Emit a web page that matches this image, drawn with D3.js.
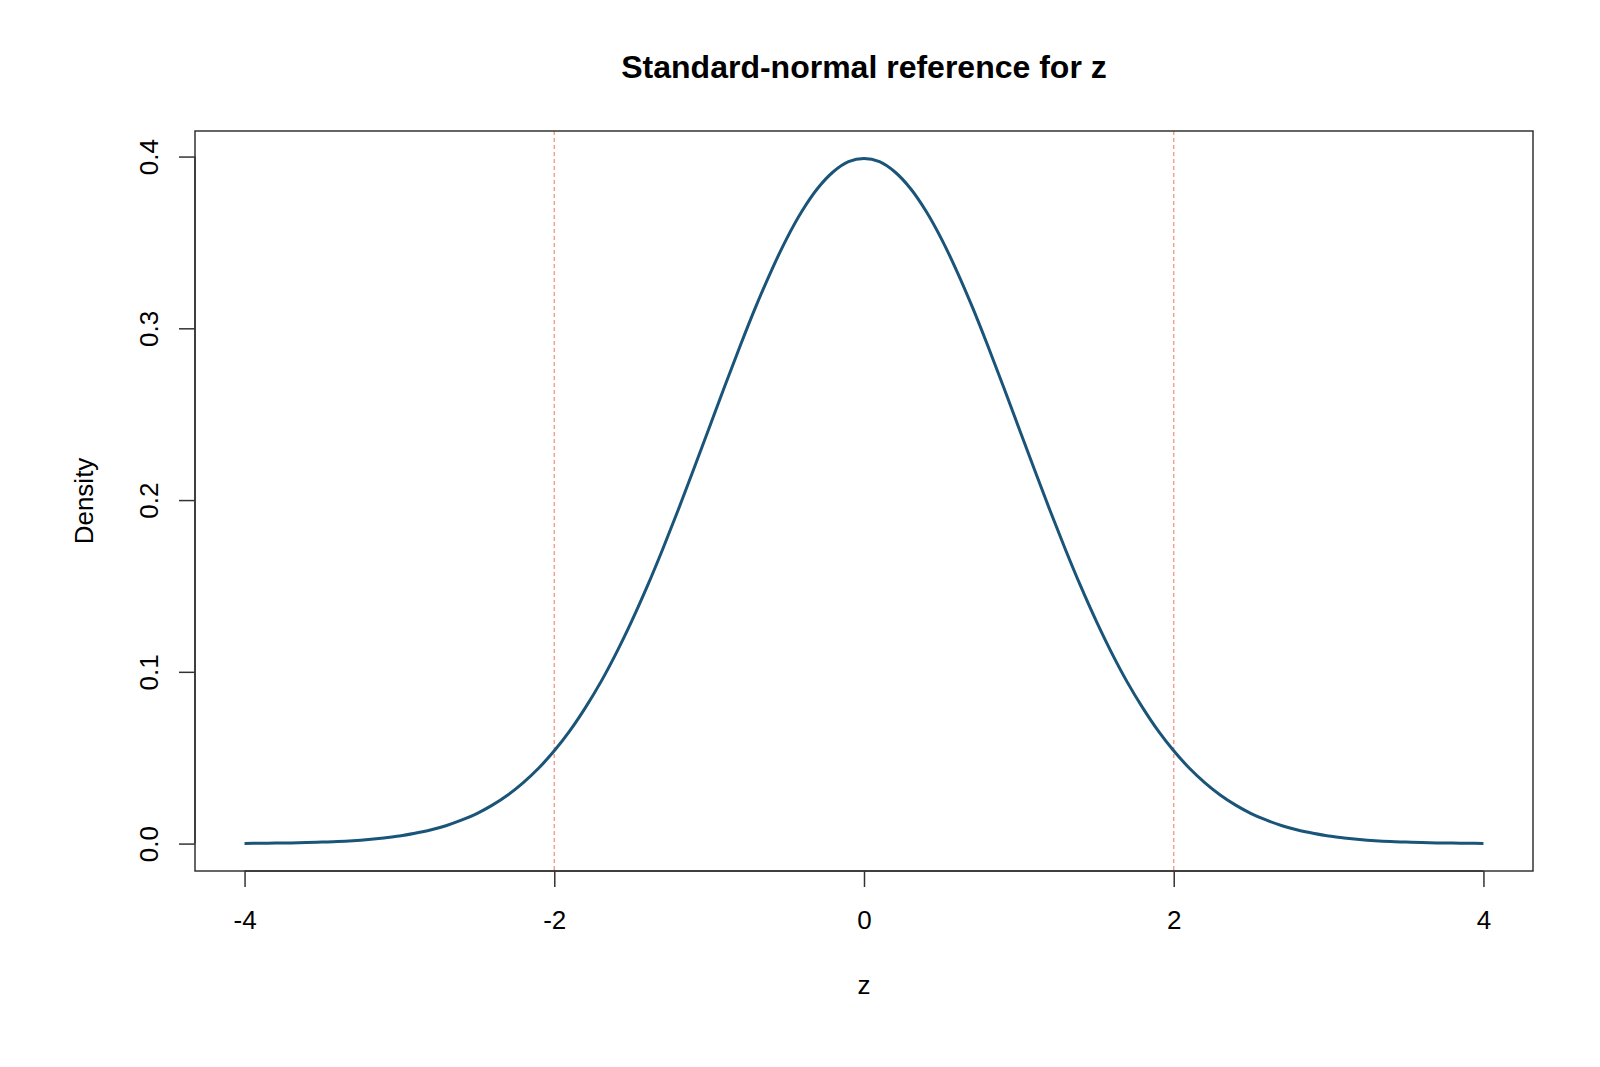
<!DOCTYPE html>
<html>
<head>
<meta charset="utf-8">
<script src="https://cdn.jsdelivr.net/npm/d3@7"></script>
<style>
  html, body { margin: 0; padding: 0; background: #fff; }
  text { font-family: "Liberation Sans", Arial, sans-serif; fill: #000; }
</style>
</head>
<body>
<script>
// values
var zValues = [-4.0,-3.9,-3.8,-3.7,-3.6,-3.5,-3.4,-3.3,-3.2,-3.1,-3.0,-2.9,-2.8,-2.7,-2.6,-2.5,-2.4,-2.3,-2.2,-2.1,
  -2.0,-1.9,-1.8,-1.7,-1.6,-1.5,-1.4,-1.3,-1.2,-1.1,-1.0,-0.9,-0.8,-0.7,-0.6,-0.5,-0.4,-0.3,-0.2,-0.1,
  0.0,0.1,0.2,0.3,0.4,0.5,0.6,0.7,0.8,0.9,1.0,1.1,1.2,1.3,1.4,1.5,1.6,1.7,1.8,1.9,
  2.0,2.1,2.2,2.3,2.4,2.5,2.6,2.7,2.8,2.9,3.0,3.1,3.2,3.3,3.4,3.5,3.6,3.7,3.8,3.9,4.0];
var densityValues = [0.0001,0.0002,0.0003,0.0004,0.0006,0.0009,0.0012,0.0017,0.0024,0.0033,0.0044,0.0060,0.0079,0.0104,0.0136,0.0175,0.0224,0.0283,0.0355,0.0440,
  0.0540,0.0656,0.0790,0.0940,0.1109,0.1295,0.1497,0.1714,0.1942,0.2179,0.2420,0.2661,0.2897,0.3123,0.3332,0.3521,0.3683,0.3814,0.3910,0.3970,
  0.3989,0.3970,0.3910,0.3814,0.3683,0.3521,0.3332,0.3123,0.2897,0.2661,0.2420,0.2179,0.1942,0.1714,0.1497,0.1295,0.1109,0.0940,0.0790,0.0656,
  0.0540,0.0440,0.0355,0.0283,0.0224,0.0175,0.0136,0.0104,0.0079,0.0060,0.0044,0.0033,0.0024,0.0017,0.0012,0.0009,0.0006,0.0004,0.0003,0.0002,0.0001];
var refLines = [-2, 2];
var xTicks = [-4, -2, 0, 2, 4];
var yTicks = [0.0, 0.1, 0.2, 0.3, 0.4];
var titleText = "Standard-normal reference for z";
var xLabel = "z";
var yLabel = "Density";

function main() {
  var width = 1600, height = 1067;
  var plotLeft = 195, plotRight = 1533, plotTop = 131, plotBottom = 871;

  var svg = d3.select("body").append("svg")
    .attr("width", width).attr("height", height);

  // R style: range padded by 4%
  var x = d3.scaleLinear().domain([-4.32, 4.32]).range([plotLeft, plotRight]);
  var y = d3.scaleLinear().domain([-0.01596, 0.41488]).range([plotBottom, plotTop]);

  // dashed reference lines
  svg.selectAll(".ref").data(refLines).enter().append("line")
    .attr("x1", d => x(d)).attr("x2", d => x(d))
    .attr("y1", plotTop).attr("y2", plotBottom)
    .attr("stroke", "#f4a08e")
    .attr("stroke-width", 1.5)
    .attr("stroke-dasharray", "4,3");

  // density curve
  var line = d3.line()
    .x((d, i) => x(zValues[i]))
    .y(d => y(d))
    .curve(d3.curveCatmullRom);

  svg.append("path")
    .datum(densityValues)
    .attr("d", line)
    .attr("fill", "none")
    .attr("stroke", "#1a5478")
    .attr("stroke-width", 3)
    .attr("stroke-linejoin", "round");

  // box
  svg.append("rect")
    .attr("x", plotLeft).attr("y", plotTop)
    .attr("width", plotRight - plotLeft).attr("height", plotBottom - plotTop)
    .attr("fill", "none").attr("stroke", "#333").attr("stroke-width", 1.5);

  // x axis
  var xAxis = svg.append("g").attr("transform", "translate(0," + plotBottom + ")")
    .call(d3.axisBottom(x).tickValues(xTicks).tickSize(16).tickPadding(24)
      .tickFormat(d => d3.format("d")(d).replace("\u2212", "-")));
  xAxis.select(".domain")
    .attr("d", "M" + x(-4) + ",0H" + x(4))
    .attr("stroke", "#333").attr("stroke-width", 1.5);
  xAxis.selectAll(".tick line").attr("stroke", "#333").attr("stroke-width", 1.5);
  xAxis.selectAll(".tick text")
    .attr("font-family", "Liberation Sans, Arial, sans-serif")
    .attr("font-size", 26).attr("fill", "#000");

  // y axis
  var yAxis = svg.append("g").attr("transform", "translate(" + plotLeft + ",0)")
    .call(d3.axisLeft(y).tickValues(yTicks).tickSize(16).tickFormat(d3.format(".1f")));
  yAxis.select(".domain")
    .attr("d", "M0," + y(0) + "V" + y(0.4))
    .attr("stroke", "#333").attr("stroke-width", 1.5);
  yAxis.selectAll(".tick line").attr("stroke", "#333").attr("stroke-width", 1.5);
  yAxis.selectAll(".tick text")
    .attr("font-family", "Liberation Sans, Arial, sans-serif")
    .attr("font-size", 26).attr("fill", "#000")
    .attr("x", null).attr("dy", null)
    .attr("text-anchor", "middle")
    .attr("transform", "translate(-37,0) rotate(-90)");

  // title and labels
  svg.append("text")
    .attr("x", (plotLeft + plotRight) / 2).attr("y", 78)
    .attr("text-anchor", "middle")
    .attr("font-size", 32).attr("font-weight", "bold")
    .text(titleText);

  svg.append("text")
    .attr("x", (plotLeft + plotRight) / 2).attr("y", 994)
    .attr("text-anchor", "middle")
    .attr("font-size", 26)
    .text(xLabel);

  svg.append("text")
    .attr("transform", "translate(93," + (plotTop + plotBottom) / 2 + ") rotate(-90)")
    .attr("text-anchor", "middle")
    .attr("font-size", 26)
    .text(yLabel);
}

main();
</script>
</body>
</html>
